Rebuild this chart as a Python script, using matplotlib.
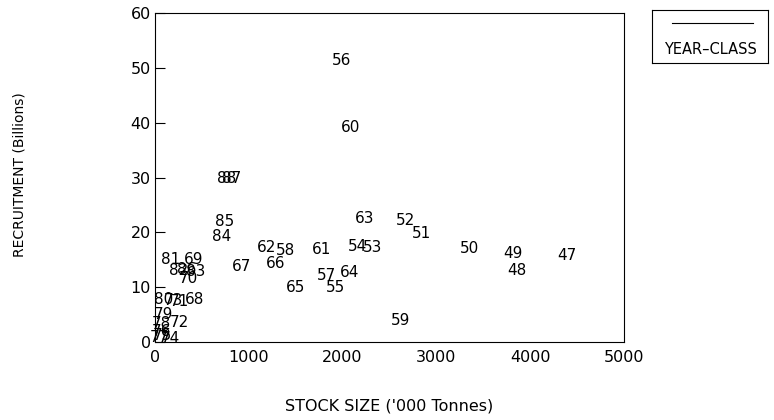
import matplotlib
matplotlib.use("Agg")
import matplotlib.pyplot as plt
from matplotlib.lines import Line2D

# year-class labels with stock size ('000 t) and recruitment (billions)
years = ["47", "48", "49", "50", "51", "52", "53", "54", "55", "56",
         "57", "58", "59", "60", "61", "62", "63", "64", "65", "66",
         "67", "68", "69", "70", "71", "72", "73", "74", "75", "76",
         "77", "78", "79", "80", "81", "82", "83", "84", "85", "86",
         "87", "88"]
stock = [4390, 3860, 3818, 3351, 2842, 2672, 2322, 2163, 1919, 1994,
         1824, 1389, 2619, 2089, 1771, 1188, 2237, 2078, 1495, 1283,
         923, 424, 414, 361, 265, 265, 200, 159, 74, 64,
         42, 64, 95, 95, 170, 255, 435, 710, 742, 340,
         817, 763]
recruit = [15.7, 13.0, 16.2, 17.0, 19.7, 22.1, 17.3, 17.5, 10.0, 51.3,
           12.2, 16.6, 4.0, 39.1, 16.8, 17.3, 22.6, 12.6, 9.9, 14.4,
           13.7, 7.7, 15.0, 11.5, 7.3, 3.5, 7.5, 0.7, 1.1, 2.0,
           0.9, 3.3, 5.0, 7.7, 15.0, 13.1, 12.8, 19.3, 21.9, 13.3,
           29.9, 29.9]

xticks = [0, 1000, 2000, 3000, 4000, 5000]
yticks = [0, 10, 20, 30, 40, 50, 60]

plt.rcParams['font.family'] = ['DejaVu Sans']

fig = plt.figure(figsize=(7.74, 4.2), dpi=100)
ax = fig.add_axes([155 / 774, 78 / 420, 469 / 774, 329 / 420])

for yr, sx, ry in zip(years, stock, recruit):
    ax.text(sx, ry, yr, ha='center', va='center', fontsize=11, color='black')

ax.set_xlim(0, 5000)
ax.set_ylim(0, 60)
ax.set_xticks(xticks)
ax.set_yticks(yticks)
ax.tick_params(axis='x', length=0, pad=6, labelsize=11.5)
ax.tick_params(axis='y', direction='in', length=7, width=0.8, pad=3, labelsize=11.5)
for sp in ax.spines.values():
    sp.set_linewidth(0.8)

ax.set_xlabel("STOCK SIZE ('000 Tonnes)", fontsize=11.5, labelpad=24)
fig.text(20 / 774, 1 - 175 / 420, "RECRUITMENT (Billions)", rotation=90,
         ha='center', va='center', fontsize=10)

# legend box on the right
lax = fig.add_axes([652 / 774, 1 - 63 / 420, 116 / 774, 53 / 420])
lax.set_xlim(0, 1)
lax.set_ylim(0, 1)
lax.set_xticks([])
lax.set_yticks([])
for sp in lax.spines.values():
    sp.set_linewidth(0.8)
lax.add_line(Line2D([0.17, 0.87], [0.75, 0.75], color='black', linewidth=0.8))
lax.text(0.5, 0.25, "YEAR\u2013CLASS", ha='center', va='center', fontsize=10.5)

fig.savefig("out.png", dpi=100)
